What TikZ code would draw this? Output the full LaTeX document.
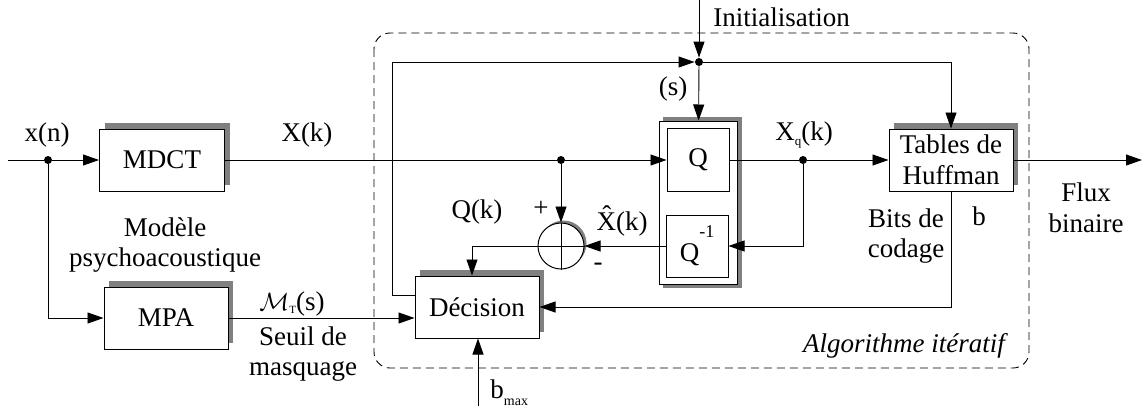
\documentclass[tikz,border=0pt]{standalone}
\usepackage{fontspec}
\setmainfont{Liberation Serif}
\usepackage{tikz}
\usetikzlibrary{arrows.meta,positioning,calc,shadows}
\definecolor{shadowgray}{gray}{0.5}

\begin{document}
\begin{tikzpicture}[>={Triangle[length=16pt,width=11pt]}, x=1pt, y=-1pt, line width=0.9pt,
  every node/.style={font=\fontsize{27}{30.5}\selectfont},
  blk/.style={draw,fill=white,line width=1pt,inner sep=0pt,minimum height=62pt,
    general shadow={fill=shadowgray,shadow xshift=5pt,shadow yshift=6pt}},
  qblk/.style={draw,fill=white,line width=1pt,inner sep=0pt,minimum width=62pt,minimum height=62pt},
  dot/.style={circle,fill,inner sep=0pt,minimum size=8pt},
  lbl/.style={anchor=base,inner sep=0pt},
  txt/.style={align=center,inner sep=0pt},
  frame/.style={dash pattern=on 8pt off 5pt,rounded corners=16pt,line width=0.9pt}]
  \useasboundingbox (0,0) rectangle (1144,416);
  %--- iterative loop frame ---
  \draw[frame] (374,33) rectangle (1029,368);
  \node[lbl,font=\fontsize{27}{30.5}\selectfont\itshape] (algo) at (904,352) {Algorithme itératif};
  %--- blocks ---
  \node[blk,minimum width=125pt] (mdct) at (162,160) {MDCT};
  \node[blk,minimum width=124pt] (mpa) at (166,318) {MPA};
  \node[blk,minimum width=124pt] (dec) at (477,307) {Décision};
  \node[blk,minimum width=124pt,align=center] (tab) at (951,160) {Tables de\\Huffman};
  \fill[shadowgray] (663,117) rectangle (742,288);
  \node[draw,fill=white,line width=1pt,minimum width=78pt,minimum height=163pt] (qbox) at (698,202.5) {};
  \node[qblk,minimum height=63pt] (q) at (698,160) {Q};
  \node[qblk] (qinv) at (697,246) {Q\raisebox{24pt}{\fontsize{18}{18}\selectfont -1}};
  \node[circle,draw,fill=white,line width=1pt,minimum size=46pt,inner sep=0pt,
    general shadow={fill=shadowgray,shadow xshift=2.5pt,shadow yshift=2.5pt}] (sum) at (561,246) {};
  \draw (sum.north) -- (sum.south) (sum.west) -- (sum.east);
  %--- junctions and free ends ---
  \node[dot] (d1) at (48,160) {};
  \node[dot] (d2) at (561,160) {};
  \node[dot] (d3) at (803,160) {};
  \node[dot] (d4) at (699,62) {};
  \coordinate (in) at (8,160);
  \coordinate (init) at (699,0);
  \coordinate (out) at (1142,160);
  \coordinate (bmax) at (478,406);
  %--- connectors ---
  \draw (in) -- (d1);
  \draw[->] (d1) -- (mdct);
  \draw[->] (d1) |- (mpa);
  \draw[->] (mdct) -- (d2) -- (q);
  \draw[->] (q) -- (d3) -- (tab);
  \draw[->] (d2) -- (sum);
  \draw[->] (d3) |- (qinv);
  \draw[->] (qinv) -- (sum);
  \draw[->] (sum) -| ([xshift=-5pt]dec.north);
  \draw[->] (mpa) -- (mpa -| dec.west);
  \draw[->] (tab) |- (dec);
  \draw[->] ([yshift=12pt]dec.west) -- ++(-22,0) |- (d4);
  \draw[->] (init) -- (d4);
  \draw[->] (d4) -- (qbox);
  \draw[->] (d4) -| (tab);
  \draw[->] (tab) -- (out);
  \draw[->] (bmax) -- (bmax |- dec.south);
  %--- labels ---
  \node[lbl,anchor=base west] (linit) at (713,26) {Initialisation};
  \node[lbl] (lxn) at (47,141) {x(n)};
  \node[lbl] (lxk) at (307,141) {X(k)};
  \node[txt] (lmod) at (165,245) {Modèle\\psychoacoustique};
  \node[lbl] (lmt) at (292,310) {$\mathcal{M}$\raisebox{-3pt}{\fontsize{11}{11}\selectfont T}(s)};
  \node[txt] (lseuil) at (303,354) {Seuil de\\masquage};
  \node[lbl] (ls) at (673,95) {(s)};
  \node[lbl] (lxq) at (804,140) {X\raisebox{-5pt}{\fontsize{13}{13}\selectfont q}(k)};
  \node[lbl] (lqk) at (477,218) {Q(k)};
  \node[inner sep=0pt] (lplus) at (541,209) {+};
  \node[inner sep=0pt] (lminus) at (598,267) {-};
  \node[lbl] (lxhat) at (622,230) {\^{X}(k)};
  \node[lbl,anchor=base west] (lbmax) at (490,398) {b\raisebox{-7pt}{\fontsize{14}{14}\selectfont max}};
  \node[txt] (lbits) at (906,236) {Bits de\\codage};
  \node[lbl] (lb) at (979,225) {b};
  \node[txt] (lflux) at (1086,208) {Flux\\binaire};
\end{tikzpicture}
\end{document}
